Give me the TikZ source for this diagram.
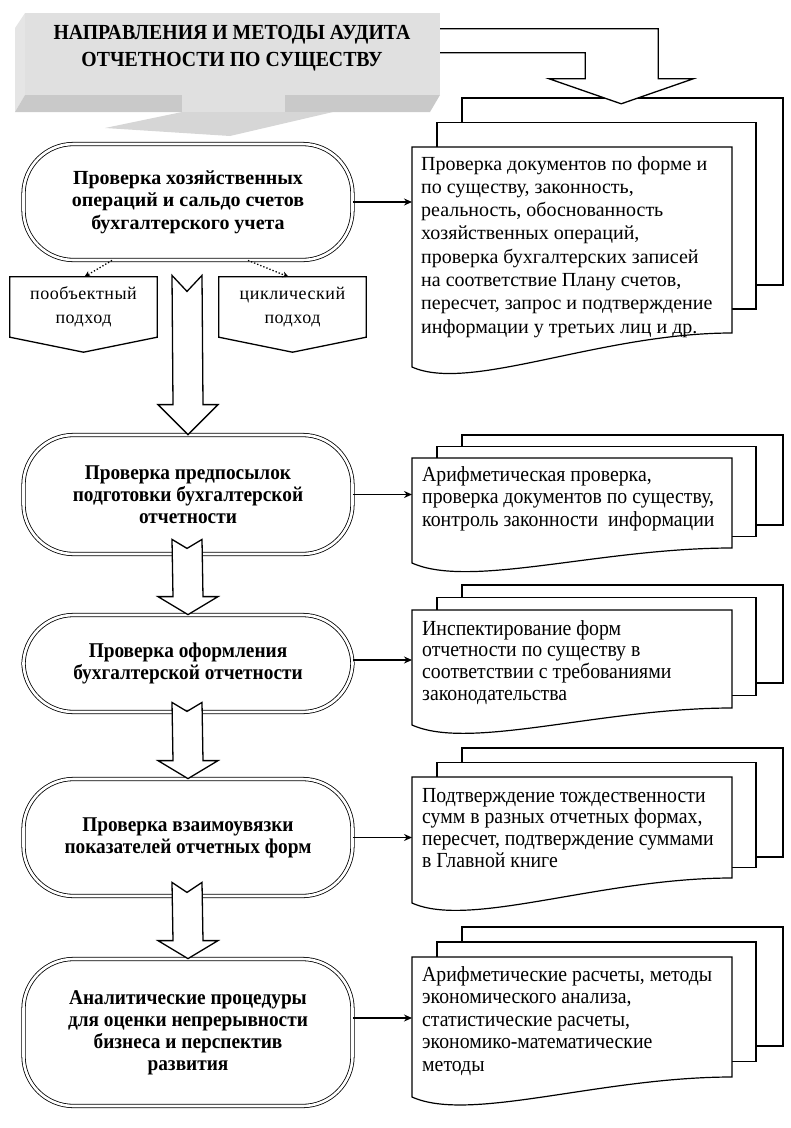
\documentclass[tikz,border=0pt]{standalone}
\usepackage{fontspec}
\setmainfont{Liberation Serif}
\newfontfamily\narrowfont[FakeStretch=0.92]{Liberation Serif}
\newfontfamily\spacedfont[LetterSpace=3]{Liberation Serif}
\usetikzlibrary{positioning,calc,arrows.meta}

% three pages: front top, top step, front right bottom, bottom step, left drop
\newcommand{\pagestack}[5]{%
    \draw[page] (462,{#1-2*#2}) rectangle (783,{#3-2*#4});
    \draw[page] (437,{#1-#2}) rectangle (756,{#3-#4});
    \draw[page] (412,#1) -- (732,#1) -- (732,#3)
        .. controls (600,#3) and (470,{#3+#5+26}) .. (412,{#3+#5}) -- cycle;
}
% hollow arrow down: stem top, tip, notch depth, head height
\newcommand{\downarrowbox}[4]{%
    \draw[hollow] ($(#1)+(-15,0)$) -- ++(15,#3) -- ++(15,-#3)
        -- ($(#2)+(15,-#4)$) -- ++(15,0) -- (#2)
        -- ($(#2)+(-30,-#4)$) -- ++(15,0) -- cycle;
}

\begin{document}
\begin{tikzpicture}[x=1pt, y=-1pt,
        oval/.style={
            rectangle,
            draw,
            double,
            double distance=2.6pt,
            line width=0.8pt,
            fill=white,
            rounded corners=50pt,
            minimum width=329pt,
            align=center,
            inner sep=2pt
        },
        bigbold/.style={font=\bfseries\fontsize{20}{22.5}\selectfont},
        narrowbold/.style={font=\narrowfont\bfseries\fontsize{21}{22}\selectfont},
        page/.style={draw, fill=white, line width=1.2pt},
        doctext/.style={
            anchor=north west,
            align=left,
            inner sep=0pt
        },
        approach/.style={
            minimum width=147pt,
            minimum height=60pt,
            align=center,
            font=\spacedfont\fontsize{18}{24}\selectfont
        },
        hollow/.style={draw, fill=white, line width=1.3pt, line join=miter},
        conn/.style={line width=1.3pt, -{Stealth[length=8pt,width=7pt]}},
        dots/.style={dotted, line width=1.3pt, -{Stealth[length=6pt,width=6pt]}}
    ]
        \useasboundingbox (0,0) rectangle (791,1128);

        % title block
        \fill[gray!20] (25,13) -- (15,28) -- (15,112) -- (25,95) -- cycle;
        \fill[gray!42] (15,112) -- (25,95) -- (440,95) -- (430,112) -- cycle;
        \node[fill=gray!24, minimum width=415pt, minimum height=82pt, inner sep=0pt] (title) at (232.5,54) {};
        \fill[gray!24] (182,95) rectangle (285,113);
        \fill[gray!32] (105,128) -- (182,112) -- (333,112) -- (230,136) -- cycle;
        \node[font=\narrowfont\bfseries\fontsize{21.5}{27}\selectfont, align=center] (titletext) at (232,48.5)
            {НАПРАВЛЕНИЯ И МЕТОДЫ АУДИТА\\ОТЧЕТНОСТИ ПО СУЩЕСТВУ};

        % page stacks
        \pagestack{147}{24.5}{333}{24}{34}
        \pagestack{458}{11.5}{548}{11.5}{15}
        \pagestack{610}{12.5}{708}{12.5}{17}
        \pagestack{777}{14.5}{878}{10.5}{25}
        \pagestack{957}{15}{1077}{15.5}{20}

        % arrow from the title to the first stack
        \draw[hollow] ($(title.north east)+(0,16)$) -- ++(218,0) -- ++(0,50) -- ++(35,0)
            -- ++(-72,25) -- ++(-72,-25) -- ++(36,0) -- ++(0,-26) -- ++(-145,0);

        \node[doctext, font=\fontsize{20}{23.3}\selectfont] (d1) at (421,156) {
            Проверка документов по форме и\\
            по существу, законность,\\
            реальность, обоснованность\\
            хозяйственных операций,\\
            проверка бухгалтерских записей\\
            на соответствие Плану счетов,\\
            пересчет, запрос и подтверждение\\
            информации у третьих лиц и др.
        };
        \node[doctext, font=\narrowfont\fontsize{21.5}{22.5}\selectfont] (d2) at (422,466) {
            Арифметическая проверка,\\
            проверка документов по существу,\\
            контроль законности\ \ информации
        };
        \node[doctext, font=\narrowfont\fontsize{21.5}{21.7}\selectfont] (d3) at (422,620) {
            Инспектирование форм\\
            отчетности по существу в\\
            соответствии с требованиями\\
            законодательства
        };
        \node[doctext, font=\narrowfont\fontsize{21.5}{21.7}\selectfont] (d4) at (422,788) {
            Подтверждение тождественности\\
            сумм в разных отчетных формах,\\
            пересчет, подтверждение суммами\\
            в Главной книге
        };
        \node[doctext, font=\narrowfont\fontsize{21.5}{22.5}\selectfont] (d5) at (422,966) {
            Арифметические расчеты, методы\\
            экономического анализа,\\
            статистические расчеты,\\
            экономико-математические\\
            методы
        };

        % ovals
        \node[oval, bigbold, minimum height=116pt] (o1) at (188,202) {
            Проверка хозяйственных\\операций и сальдо счетов\\бухгалтерского учета};
        \node[oval, narrowbold, minimum height=119pt] (o2) at (188,494.5) {
            Проверка предпосылок\\подготовки бухгалтерской\\отчетности};
        \node[oval, narrowbold, minimum height=97pt] (o3) at (188,663.5) {
            Проверка оформления\\бухгалтерской отчетности};
        \node[oval, narrowbold, minimum height=117pt] (o4) at (188,837.5) {
            Проверка взаимоувязки\\показателей отчетных форм};
        \node[oval, narrowbold, minimum height=147pt] (o5) at (188,1032.5) {
            Аналитические процедуры\\для оценки непрерывности\\бизнеса и перспектив\\развития};

        % approaches
        \node[approach] (p1) at (83.5,307) {пообъектный\\подход};
        \node[approach] (p2) at (292.5,307) {циклический\\подход};
        \foreach \p in {p1, p2} {
            \draw[line width=1.3pt, line join=miter] (\p.north west) -- (\p.north east) -- (\p.south east)
                -- ($(\p.south)+(0,15)$) -- (\p.south west) -- cycle;
        }
        \draw[dots] ($(o1.south)+(-76,0)$) -- ($(p1.north)+(1,0)$);
        \draw[dots] ($(o1.south)+(60,0)$) -- ($(p2.north)+(-4,0)$);

        % arrows between the ovals
        \downarrowbox{$(o1.south)+(-1,15)$}{o2.north}{16}{30}
        \downarrowbox{$(o2.south)+(-1,-15)$}{o3.north}{9}{18}
        \downarrowbox{$(o3.south)+(-1,-10)$}{o4.north}{9}{18}
        \downarrowbox{$(o4.south)+(-1,-14)$}{o5.north}{10}{18}

        % arrows to the pages
        \coordinate (in1) at (412,202);
        \coordinate (in2) at (412,494.5);
        \coordinate (in3) at (412,660);
        \coordinate (in4) at (412,837.5);
        \coordinate (in5) at (412,1018);
        \foreach \i in {1,...,5} {
            \draw[conn] (o\i.east |- in\i) -- (in\i);
        }
    \end{tikzpicture}
\end{document}
